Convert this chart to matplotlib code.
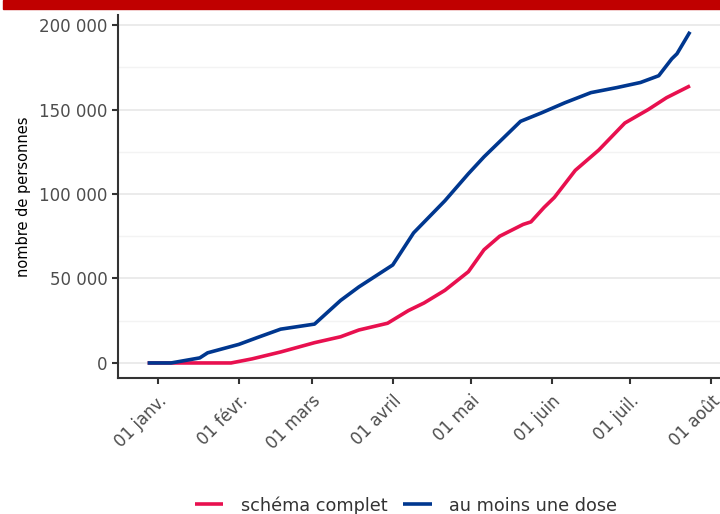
import matplotlib
matplotlib.use("Agg")
import matplotlib.pyplot as plt
import matplotlib.ticker as mticker
import pandas as pd
from matplotlib.patches import Rectangle

# ==========================
# Data
# ==========================
dose_dates = [
    "2020-12-28", "2021-01-06", "2021-01-17", "2021-01-20", "2021-02-01",
    "2021-02-08", "2021-02-17", "2021-03-02", "2021-03-12", "2021-03-19",
    "2021-04-01", "2021-04-09", "2021-04-21", "2021-04-30", "2021-05-06",
    "2021-05-14", "2021-05-20", "2021-05-28", "2021-06-06", "2021-06-16",
    "2021-06-26", "2021-07-05", "2021-07-12", "2021-07-17", "2021-07-19",
    "2021-07-24",
]
dose_values = [
    0, 0, 3000, 6000, 11000,
    15000, 20000, 23000, 37000, 45000,
    58000, 77000, 96000, 112000, 122000,
    134000, 143000, 148000, 154000, 160000,
    163000, 166000, 170000, 180000, 183000,
    196000,
]

complet_dates = [
    "2020-12-28", "2021-01-29", "2021-02-06", "2021-02-17", "2021-03-02",
    "2021-03-12", "2021-03-19", "2021-03-30", "2021-04-07", "2021-04-13",
    "2021-04-21", "2021-04-30", "2021-05-06", "2021-05-12", "2021-05-21",
    "2021-05-24", "2021-05-29", "2021-06-02", "2021-06-10", "2021-06-19",
    "2021-06-29", "2021-07-08", "2021-07-15", "2021-07-24",
]
complet_values = [
    0, 0, 2400, 6500, 12000,
    15500, 19500, 23500, 31000, 35500,
    43000, 54000, 67000, 75000, 82000,
    83500, 92000, 98000, 114000, 126000,
    142000, 150000, 157000, 164000,
]

month_ticks = ["2021-01-01", "2021-02-01", "2021-03-01", "2021-04-01",
               "2021-05-01", "2021-06-01", "2021-07-01", "2021-08-01"]
month_labels = ["01 janv.", "01 févr.", "01 mars", "01 avril",
                "01 mai", "01 juin", "01 juil.", "01 août"]

# ==========================
# Figure
# ==========================
fig = plt.figure(figsize=(7.2, 5.14), dpi=100)
ax = fig.add_axes([0.164, 0.2646, 0.836, 0.7064])

# red banner at the top
fig.patches.append(Rectangle((3 / 720, 1 - 9 / 514), 1, 9 / 514,
                             transform=fig.transFigure, color="#c00000",
                             zorder=5))

red = "#e8104f"
blue = "#00378f"

ax.plot(pd.to_datetime(complet_dates), complet_values, color=red, lw=2.6,
        label="schéma complet", solid_capstyle="butt")
ax.plot(pd.to_datetime(dose_dates), dose_values, color=blue, lw=2.6,
        label="au moins une dose", solid_capstyle="butt")

# axes limits
ax.set_ylim(-8900, 206000)
ax.set_xlim(pd.Timestamp("2020-12-16 16:00"), pd.Timestamp("2021-08-04 12:00"))

# y axis
ax.yaxis.set_major_locator(mticker.MultipleLocator(50000))
ax.yaxis.set_minor_locator(mticker.MultipleLocator(25000))
ax.yaxis.set_major_formatter(
    mticker.FuncFormatter(lambda v, p: f"{int(v):,}".replace(",", " ")))
ax.grid(True, which="major", axis="y", color="#ebebeb", lw=1.4)
ax.grid(True, which="minor", axis="y", color="#f3f3f3", lw=1.0)
ax.set_axisbelow(True)
ax.tick_params(axis="y", which="minor", length=0)

# x axis
ax.set_xticks(pd.to_datetime(month_ticks))
ax.set_xticklabels(month_labels, rotation=45, ha="right",
                   rotation_mode="anchor")

ax.tick_params(axis="both", which="major", direction="out", length=4,
               width=1.5, color="#333333", labelcolor="#4d4d4d",
               labelsize=12)
ax.tick_params(axis="x", pad=6)

for side in ["top", "right"]:
    ax.spines[side].set_visible(False)
for side in ["left", "bottom"]:
    ax.spines[side].set_color("#333333")
    ax.spines[side].set_linewidth(1.5)

ax.set_ylabel("nombre de personnes", fontsize=10.5, color="black", labelpad=6)

fig.legend(loc="lower center", bbox_to_anchor=(0.564, -0.032), ncol=2,
           frameon=False, fontsize=12.7, handlelength=1.6, handletextpad=1.0,
           columnspacing=0.9, labelcolor="#333333")

plt.savefig("out.png", dpi=100)
